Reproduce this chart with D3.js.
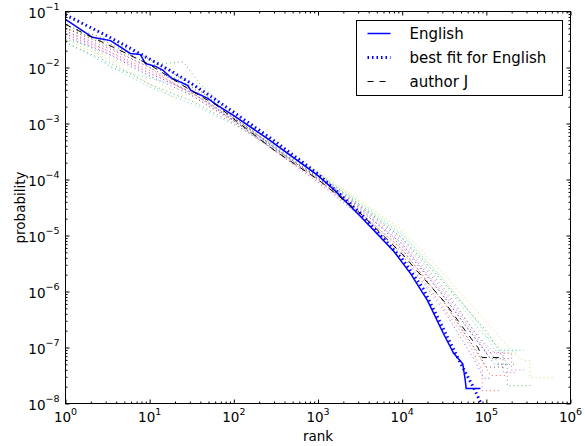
<!DOCTYPE html>
<head>
    <meta charset="utf-8">
    <script src="https://d3js.org/d3.v7.min.js"></script>
    <style>
        body {
            margin: 0;
            background: white;
            font-family: "DejaVu Sans", sans-serif;
        }

        text {
            font-size: 13.5px;
            fill: black;
        }

        .legend-row text {
            font-size: 15px;
        }

        .spine {
            fill: none;
            stroke: black;
            stroke-width: 1px;
        }

        .tick line {
            stroke: black;
            stroke-width: 1px;
        }

        .domain {
            display: none;
        }

        .other-line {
            fill: none;
            stroke-width: 1px;
            stroke-dasharray: 1,3;
            opacity: 0.6;
        }

        .english-line {
            fill: none;
            stroke: #0000ff;
            stroke-width: 1.5px;
        }

        .fit-line {
            fill: none;
            stroke: #0000ff;
            stroke-width: 3px;
            stroke-dasharray: 1.5,3;
        }

        .author-line {
            fill: none;
            stroke: black;
            stroke-width: 1px;
            stroke-dasharray: 6,6;
        }

        .legend-box {
            fill: white;
            stroke: black;
            stroke-width: 1px;
        }
    </style>
</head>

<body>
<script>
    // all series given as [log10(rank), log10(probability)]
    var english = [
        [0, -1.14], [0.32, -1.46], [0.535, -1.52], [0.77, -1.75], [0.89, -1.77],
        [0.95, -1.93], [1.07, -1.98], [1.16, -2.05], [1.25, -2.18], [1.45, -2.32],
        [1.49, -2.41], [1.69, -2.55], [1.81, -2.68], [2.0, -2.86], [2.4, -3.27],
        [2.79, -3.7], [3.0, -3.93], [3.18, -4.17], [3.5, -4.65], [3.9, -5.28], [4.1, -5.68],
        [4.3, -6.16], [4.49, -6.75], [4.61, -7.1], [4.72, -7.29], [4.75, -7.59],
        [4.76, -7.73], [4.93, -7.73]
    ];

    var bestFit = [
        [0, -1.06], [0.25, -1.25], [0.5, -1.44], [0.75, -1.64], [1, -1.85],
        [1.25, -2.06], [1.5, -2.29], [1.75, -2.54], [2, -2.8], [2.5, -3.33],
        [3, -3.9], [3.5, -4.6], [4, -5.42], [4.25, -5.95], [4.5, -6.7],
        [4.7, -7.3], [4.85, -7.72], [5.0, -8.2]
    ];

    var authorJ = [
        [0, -1.23], [0.3, -1.45], [0.6, -1.66], [1, -1.95], [1.5, -2.42],
        [1.8, -2.68], [2, -2.92], [2.5, -3.5], [3, -4.0], [3.5, -4.6],
        [4, -5.33], [4.5, -6.18], [4.75, -6.7], [4.9, -7.0], [4.95, -7.18],
        [5.15, -7.18]
    ];

    var otherAuthors = [
        [[0, -1.3], [0.5, -1.6], [1, -1.95], [1.4, -1.9], [1.6, -2.3], [2, -2.85], [2.5, -3.4], [3, -3.9], [3.5, -4.45], [4, -5.05], [4.5, -5.85], [5.0, -6.7], [5.25, -7.3], [5.25, -7.68], [5.55, -7.68]],
        [[0, -1.35], [0.5, -1.7], [1, -2.05], [1.5, -2.45], [2, -2.95], [2.5, -3.5], [3, -4.02], [3.5, -4.62], [4, -5.3], [4.5, -6.3], [4.8, -6.95], [4.95, -7.4], [4.95, -7.77], [5.15, -7.77]],
        [[0, -1.5], [0.3, -1.62], [0.53, -2.0], [0.9, -2.15], [1.3, -2.3], [1.6, -2.55], [2, -2.95], [2.5, -3.42], [3, -3.88], [3.5, -4.42], [4, -4.98], [4.5, -5.8], [4.9, -6.55], [5.1, -7.05], [5.45, -7.05]],
        [[0, -1.4], [0.5, -1.7], [1, -2.1], [1.5, -2.45], [2, -2.92], [2.5, -3.45], [3, -3.95], [3.5, -4.5], [4, -5.15], [4.5, -6.05], [4.9, -6.85], [5.0, -7.09], [5.2, -7.09], [5.2, -7.45], [5.35, -7.45]],
        [[0, -1.45], [0.5, -1.8], [1, -2.15], [1.25, -2.4], [1.5, -2.3], [2, -2.9], [2.5, -3.38], [3, -3.85], [3.5, -4.38], [4, -4.9], [4.5, -5.7], [5.0, -6.55], [5.3, -7.05], [5.43, -7.23], [5.52, -7.23], [5.52, -7.54], [5.82, -7.54]],
        [[0, -1.3], [0.5, -1.55], [1, -1.95], [1.5, -2.35], [2, -2.9], [2.5, -3.45], [3, -3.97], [3.5, -4.52], [4, -5.2], [4.5, -6.1], [4.9, -6.9], [5.05, -7.2], [5.3, -7.2]],
        [[0, -1.35], [0.5, -1.65], [1, -2.0], [1.5, -2.4], [2, -2.95], [2.5, -3.5], [3, -4.05], [3.5, -4.65], [4, -5.35], [4.5, -6.35], [4.85, -7.2], [4.97, -7.55], [5.05, -7.55]],
        [[0, -1.55], [0.5, -1.9], [1, -2.3], [1.5, -2.6], [2, -3.0], [2.5, -3.48], [3, -3.95], [3.5, -4.48], [4, -5.05], [4.5, -5.95], [4.95, -6.9], [5.15, -7.3], [5.35, -7.3]],
        [[0, -1.3], [0.4, -1.55], [1, -2.0], [1.5, -2.5], [2, -2.98], [2.5, -3.5], [3, -4.0], [3.5, -4.6], [4, -5.25], [4.5, -6.2], [4.85, -7.0], [5.05, -7.5], [5.25, -7.5]],
        [[0, -1.55], [0.5, -1.95], [1, -2.35], [1.5, -2.65], [2, -3.02], [2.5, -3.45], [3, -3.9], [3.5, -4.45], [4, -5.0], [4.5, -5.85], [4.95, -6.75], [5.2, -7.05], [5.4, -7.05]],
        [[0, -1.4], [0.5, -1.75], [1, -2.1], [1.5, -2.45], [2, -2.9], [2.5, -3.42], [3, -3.92], [3.5, -4.48], [4, -5.1], [4.5, -6.0], [4.9, -6.8], [5.1, -7.1], [5.3, -7.1], [5.3, -7.4], [5.45, -7.4]],
        [[0, -1.5], [0.5, -1.85], [1, -2.3], [1.3, -2.55], [1.5, -2.45], [2, -2.95], [2.5, -3.4], [3, -3.88], [3.5, -4.4], [4, -4.95], [4.5, -5.8], [4.95, -6.65], [5.2, -7.1], [5.35, -7.1]],
        [[0, -1.25], [0.5, -1.5], [1, -1.85], [1.5, -2.3], [2, -2.88], [2.5, -3.45], [3, -4.0], [3.5, -4.58], [4, -5.25], [4.5, -6.2], [4.9, -7.1], [5.0, -7.35], [5.2, -7.35]],
        [[0, -1.45], [0.5, -1.75], [1, -2.15], [1.5, -2.5], [2, -2.95], [2.5, -3.47], [3, -3.98], [3.5, -4.55], [4, -5.15], [4.5, -6.1], [4.95, -7.0], [5.1, -7.3], [5.25, -7.3]]
    ];

    var otherColors = ["#008000", "#ff0000", "#00bfbf", "#bf00bf", "#bfbf00", "#000000", "#0000ff"];

    var rankExponents = [0, 1, 2, 3, 4, 5, 6];
    var probExponents = [-8, -7, -6, -5, -4, -3, -2, -1];

    var legendLabels = [
        {label: "English", cls: "english-line"},
        {label: "best fit for English", cls: "fit-line"},
        {label: "author J", cls: "author-line"}
    ];

    var margin = {top: 11, right: 15, bottom: 43, left: 65};
    var width = 585 - margin.left - margin.right,
        height = 446 - margin.top - margin.bottom;

    var svg = d3.select("body").append("svg")
        .attr("width", 585)
        .attr("height", 446)
        .append("g")
        .attr("transform", "translate(" + (margin.left + 0.5) + "," + (margin.top + 0.5) + ")");

    var x = d3.scaleLog().domain([1, 1e6]).range([0, width]);
    var y = d3.scaleLog().domain([1e-8, 1e-1]).range([height, 0]);

    var majorX = rankExponents.map(function(e) { return Math.pow(10, e); });
    var majorY = probExponents.map(function(e) { return Math.pow(10, e); });

    var minorX = [], minorY = [];
    rankExponents.slice(0, -1).forEach(function(e) {
        for (var k = 2; k < 10; k++) minorX.push(k * Math.pow(10, e));
    });
    probExponents.slice(0, -1).forEach(function(e) {
        for (var k = 2; k < 10; k++) minorY.push(k * Math.pow(10, e));
    });

    svg.append("clipPath").attr("id", "plot-clip")
        .append("rect")
        .attr("width", width)
        .attr("height", height);

    var line = d3.line()
        .x(function(d) { return x(Math.pow(10, d[0])); })
        .y(function(d) { return y(Math.pow(10, d[1])); });

    var plot = svg.append("g").attr("clip-path", "url(#plot-clip)");

    plot.selectAll(".other-line")
        .data(otherAuthors)
        .enter().append("path")
        .attr("class", "other-line")
        .attr("stroke", function(d, i) { return otherColors[i % otherColors.length]; })
        .attr("d", line);

    plot.append("path").attr("class", "english-line").attr("d", line(english));
    plot.append("path").attr("class", "fit-line").attr("d", line(bestFit));
    plot.append("path").attr("class", "author-line").attr("d", line(authorJ));

    // ticks on all four sides, pointing inwards
    function addAxis(axisFn, scale, values, size, transform) {
        return svg.append("g")
            .attr("transform", transform || null)
            .call(axisFn(scale).tickValues(values).tickSize(-size).tickFormat(""));
    }

    addAxis(d3.axisBottom, x, majorX, 4, "translate(0," + height + ")");
    addAxis(d3.axisBottom, x, minorX, 2, "translate(0," + height + ")");
    addAxis(d3.axisTop, x, majorX, 4);
    addAxis(d3.axisTop, x, minorX, 2);
    addAxis(d3.axisLeft, y, majorY, 4);
    addAxis(d3.axisLeft, y, minorY, 2);
    addAxis(d3.axisRight, y, majorY, 4, "translate(" + width + ",0)");
    addAxis(d3.axisRight, y, minorY, 2, "translate(" + width + ",0)");

    svg.append("rect")
        .attr("class", "spine")
        .attr("width", width)
        .attr("height", height);

    // tick labels as 10 with a superscript
    function powerLabel(sel, exp) {
        sel.append("tspan").text("10");
        sel.append("tspan")
            .attr("dy", -7.5)
            .style("font-size", "9.5px")
            .text(String(exp).replace("-", "\u2212"));
    }

    svg.append("g").selectAll("text")
        .data(rankExponents)
        .enter().append("text")
        .attr("x", function(d) { return x(Math.pow(10, d)); })
        .attr("y", height + 18.5)
        .attr("text-anchor", "middle")
        .each(function(d) { powerLabel(d3.select(this), d); });

    svg.append("g").selectAll("text")
        .data(probExponents)
        .enter().append("text")
        .attr("x", -6)
        .attr("y", function(d) { return y(Math.pow(10, d)) + 6; })
        .attr("text-anchor", "end")
        .each(function(d) { powerLabel(d3.select(this), d); });

    svg.append("text")
        .attr("x", width / 2)
        .attr("y", height + 37)
        .attr("text-anchor", "middle")
        .text("rank");

    svg.append("text")
        .attr("transform", "translate(" + (-41) + "," + (height / 2) + ") rotate(-90)")
        .attr("text-anchor", "middle")
        .text("probability");

    // legend
    var legend = svg.append("g")
        .attr("transform", "translate(291,9)");

    legend.append("rect")
        .attr("class", "legend-box")
        .attr("width", 206)
        .attr("height", 75);

    var rows = legend.selectAll(".legend-row")
        .data(legendLabels)
        .enter().append("g")
        .attr("class", "legend-row")
        .attr("transform", function(d, i) { return "translate(0," + (13 + i * 24) + ")"; });

    rows.append("line")
        .attr("class", function(d) { return d.cls; })
        .attr("x1", 11)
        .attr("x2", 34)
        .attr("y1", 0)
        .attr("y2", 0);

    rows.append("text")
        .attr("x", 53)
        .attr("y", 5.5)
        .text(function(d) { return d.label; });
</script>
</body>
